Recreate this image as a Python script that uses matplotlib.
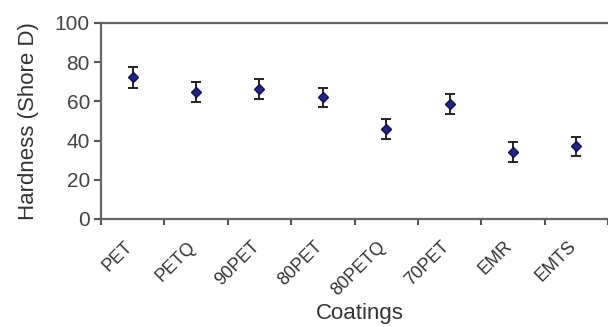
import matplotlib
matplotlib.use('Agg')
import matplotlib.pyplot as plt
import matplotlib.transforms as mtransforms
import numpy as np

coatings = ['PET', 'PETQ', '90PET', '80PET', '80PETQ', '70PET', 'EMR', 'EMTS']
hardness = [72.2, 65.0, 66.3, 62.1, 46.0, 58.6, 34.2, 37.0]
err = [5.2, 5.1, 5.1, 4.9, 5.1, 5.1, 4.9, 5.0]

plt.rcParams['font.family'] = ['Liberation Sans', 'DejaVu Sans']

fig = plt.figure(figsize=(6.08, 3.27), dpi=100)
ax = fig.add_axes([101/608, 1 - 219/327, 1 - 101/608, 196/327])

x = np.arange(len(coatings))
ax.errorbar(x, hardness, yerr=err, fmt='D', color='#22228a', mec='#10104a',
            ms=5.5, ecolor='#222222', elinewidth=1.4, capsize=3.5, capthick=1.4)

ax.set_xlim(-0.5, 7.4)
ax.set_ylim(0, 100)
ax.set_yticks(range(0, 101, 20))
ax.set_xticks(x)
ax.set_xticklabels(coatings, rotation=45, ha='right', va='center',
                   rotation_mode='anchor', fontsize=13, color='#333333')
ax.set_xticks(np.arange(-0.5, 8, 1), minor=True)
ax.tick_params(axis='x', which='major', length=0, pad=18)
ax.tick_params(axis='x', which='minor', length=4, width=1.5, color='#555555')
ax.tick_params(axis='y', length=5, width=1.5, color='#555555',
               labelsize=15, labelcolor='#444444', pad=3)

# shift the slanted labels a little to the left, like the original
offset = mtransforms.ScaledTranslation(-3/100, 0, fig.dpi_scale_trans)
for lab in ax.get_xticklabels():
    lab.set_transform(lab.get_transform() + offset)

for s in ['left', 'bottom', 'top']:
    ax.spines[s].set_color('#666666')
    ax.spines[s].set_linewidth(1.6)
ax.spines['right'].set_visible(False)

ax.set_ylabel('Hardness (Shore D)', fontsize=16, color='#333333')
ax.yaxis.set_label_coords(-0.122, 0.5)
ax.set_xlabel('Coatings', fontsize=16, color='#333333')
ax.xaxis.set_label_coords(0.511, -0.43)

plt.savefig('out.png', dpi=100)
plt.close()
